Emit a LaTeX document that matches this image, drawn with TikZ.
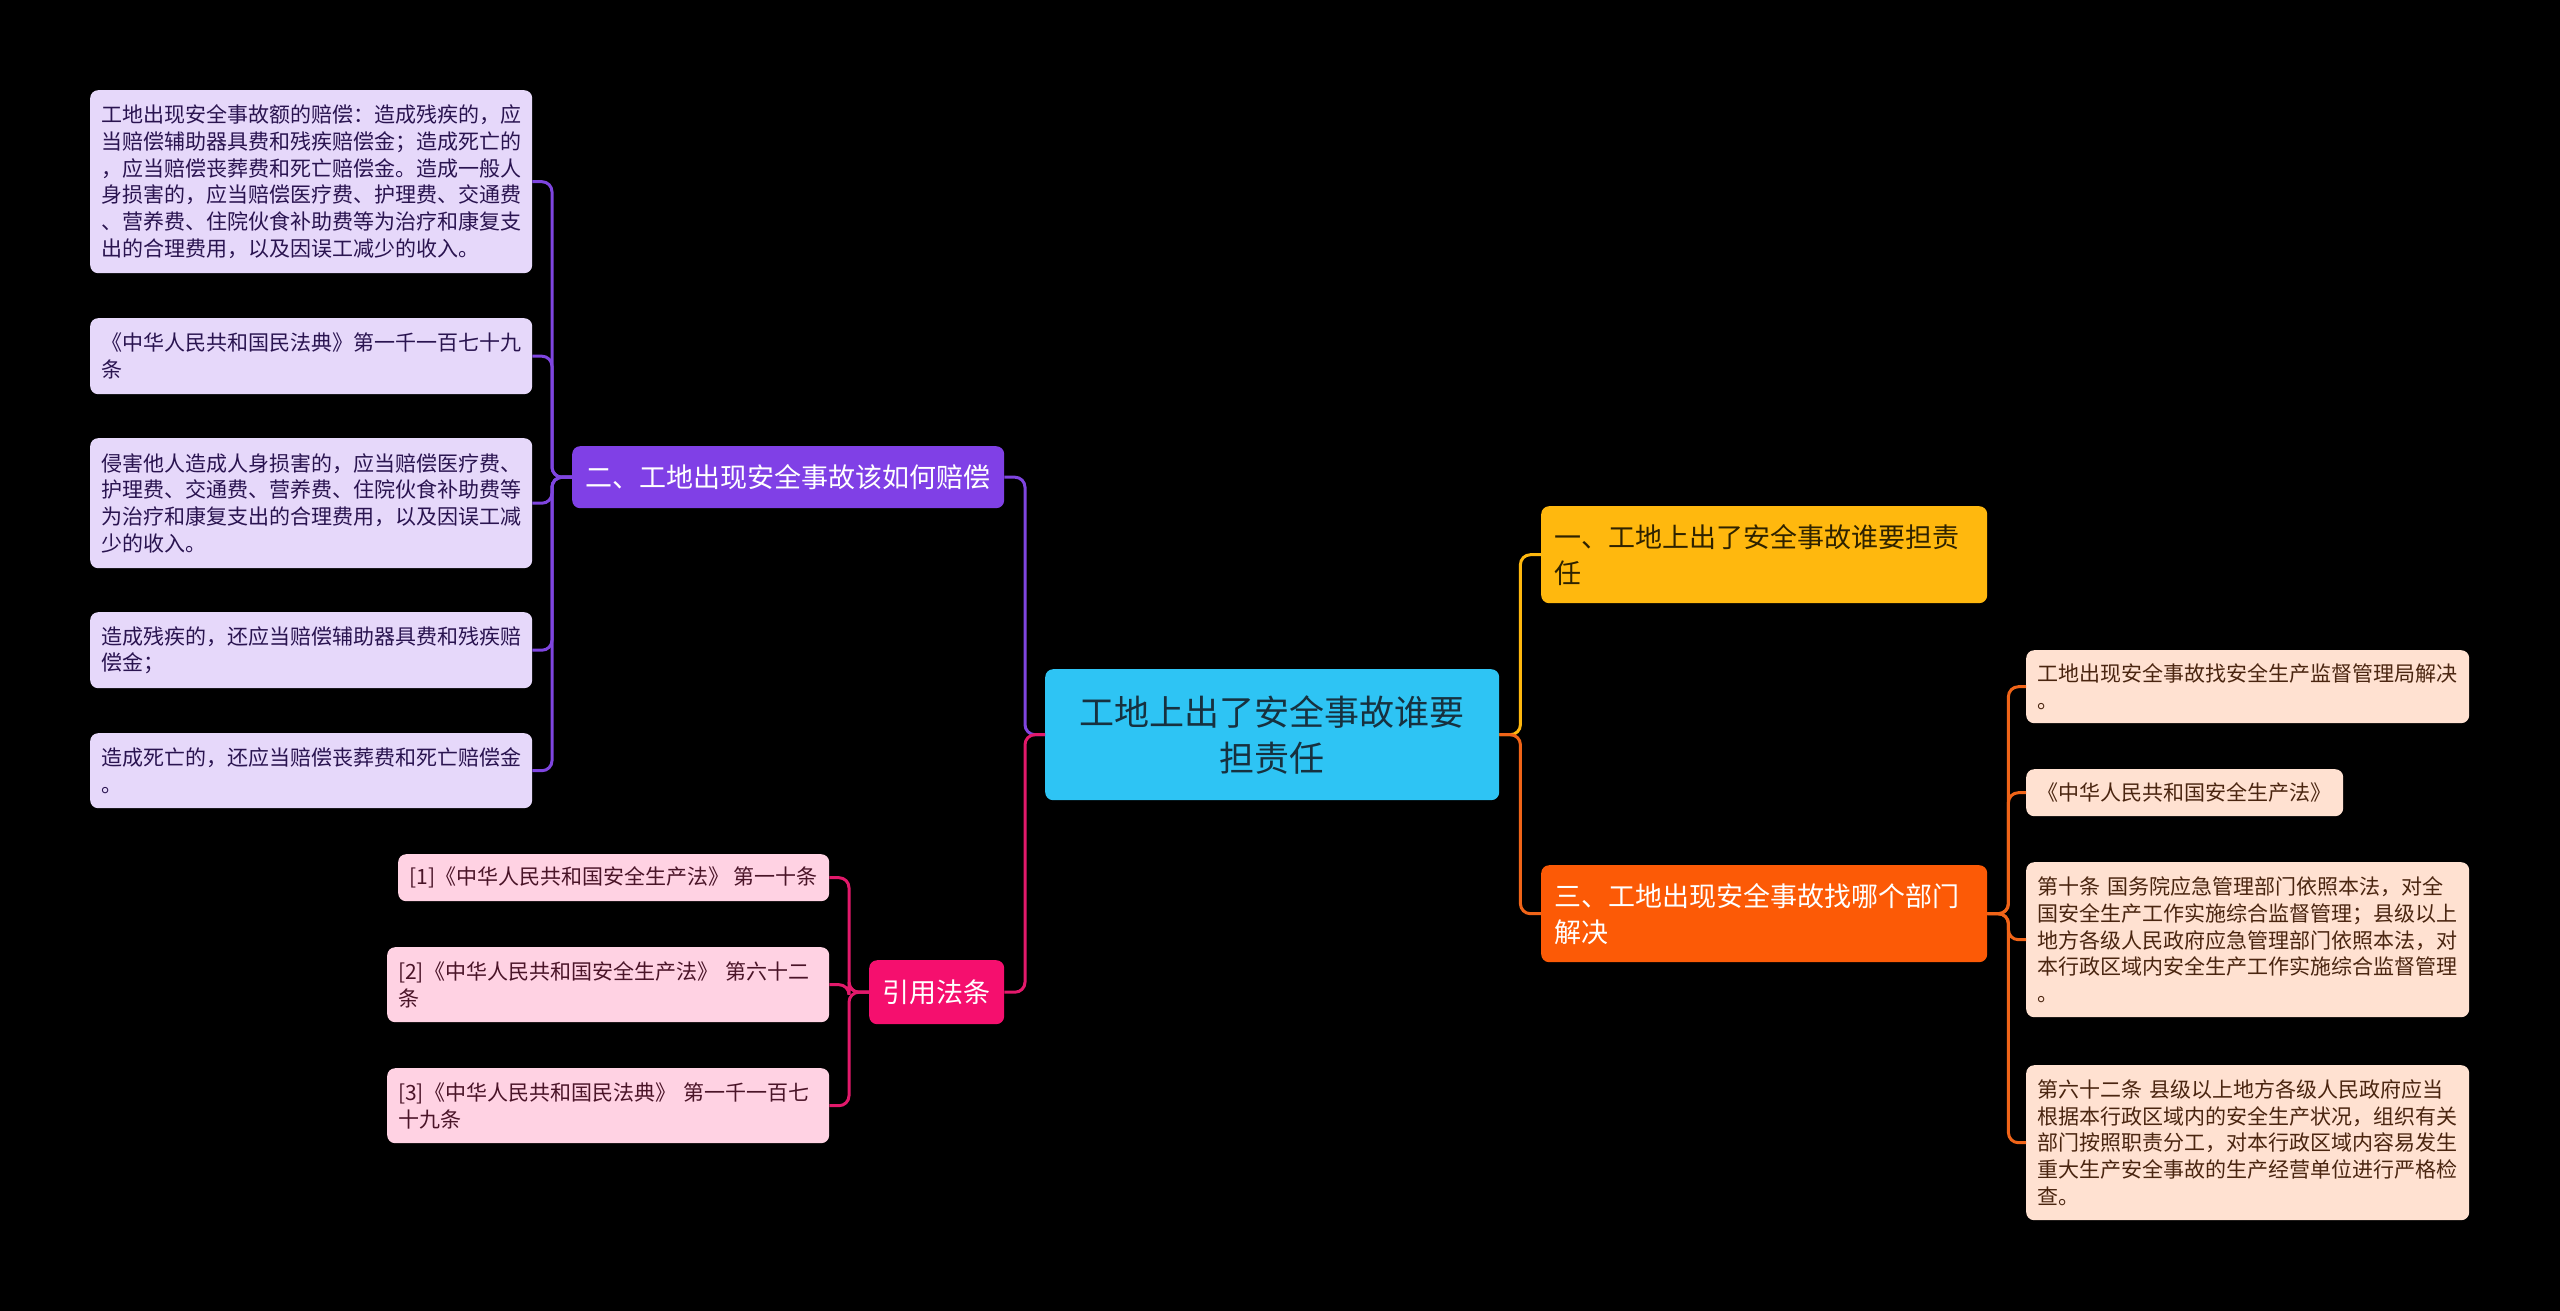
\documentclass[tikz,border=0pt]{standalone}
\usepackage{fontspec}
\newfontfamily\cjk{Noto Sans CJK SC}
\definecolor{bg}{HTML}{000000}
\definecolor{cfill}{HTML}{2EC4F4}
\definecolor{ctext}{HTML}{17313F}
\definecolor{yfill}{HTML}{FFB80E}
\definecolor{ytext}{HTML}{2E2200}
\definecolor{ofill}{HTML}{FC5A06}
\definecolor{oline}{HTML}{F06418}
\definecolor{pfill}{HTML}{8040E6}
\definecolor{pline}{HTML}{7F45E0}
\definecolor{mfill}{HTML}{F50F6E}
\definecolor{mline}{HTML}{E2196B}
\definecolor{lavfill}{HTML}{E6D8FA}
\definecolor{lavtext}{HTML}{2A1450}
\definecolor{pinkfill}{HTML}{FFD2E3}
\definecolor{pinktext}{HTML}{4A1428}
\definecolor{peachfill}{HTML}{FFE1D1}
\definecolor{peachtext}{HTML}{4A2510}
\tikzset{
  box/.style={rounded corners=8pt, inner ysep=0pt, anchor=north west, font=\cjk},
  leaf/.style={box, inner xsep=11pt, align=left, font=\cjk\fontsize{21}{26.7}\selectfont},
  leafV/.style={leaf, fill=lavfill, text=lavtext},
  leafP/.style={leaf, fill=pinkfill, text=pinktext},
  leafO/.style={leaf, fill=peachfill, text=peachtext},
  branch/.style={box, font=\cjk\fontsize{27}{36}\selectfont},
  conn/.style={line width=3pt, rounded corners=10pt}
}
\begin{document}
\begin{tikzpicture}[x=1pt,y=-1pt]
\useasboundingbox (0,0) rectangle (2560,1311);
\fill[bg] (0,0) rectangle (2560,1311);

% centre
\node[box, fill=cfill, text=ctext, minimum width=454pt, minimum height=131pt, inner xsep=0pt, align=center,
  font=\cjk\fontsize{35}{46}\selectfont] (c) at (1045,669) {工地上出了安全事故谁要\\担责任};

% branches
\node[branch, fill=yfill, text=ytext, minimum height=97pt, inner xsep=13pt, text width=420pt, align=left]
  (b1) at (1541,506) {一、工地上出了安全事故谁要担责\\任};
\node[branch, fill=ofill, text=white, minimum height=97pt, inner xsep=13pt, text width=420pt, align=left]
  (b3) at (1541,865) {三、工地出现安全事故找哪个部门\\解决};
\node[branch, fill=pfill, text=white, minimum height=62pt, minimum width=432pt, inner xsep=0pt]
  (b2) at (572,446) {二、工地出现安全事故该如何赔偿};
\node[branch, fill=mfill, text=white, minimum height=64pt, minimum width=135pt, inner xsep=0pt]
  (b4) at (869,960) {引用法条};

% purple leaves
\node[leafV, text width=420pt, minimum height=183pt] (l1) at (90,90)
  {工地出现安全事故额的赔偿：造成残疾的，应\\当赔偿辅助器具费和残疾赔偿金；造成死亡的\\，应当赔偿丧葬费和死亡赔偿金。造成一般人\\身损害的，应当赔偿医疗费、护理费、交通费\\、营养费、住院伙食补助费等为治疗和康复支\\出的合理费用，以及因误工减少的收入。};
\node[leafV, text width=420pt, minimum height=76pt] (l2) at (90,318)
  {《中华人民共和国民法典》第一千一百七十九\\条};
\node[leafV, text width=420pt, minimum height=130pt] (l3) at (90,438)
  {侵害他人造成人身损害的，应当赔偿医疗费、\\护理费、交通费、营养费、住院伙食补助费等\\为治疗和康复支出的合理费用，以及因误工减\\少的收入。};
\node[leafV, text width=420pt, minimum height=76pt] (l4) at (90,612)
  {造成残疾的，还应当赔偿辅助器具费和残疾赔\\偿金；};
\node[leafV, text width=420pt, minimum height=75pt] (l5) at (90,733)
  {造成死亡的，还应当赔偿丧葬费和死亡赔偿金\\。};

% pink leaves
\node[leafP, inner xsep=8pt, minimum width=431pt, minimum height=47pt] (p1) at (398,854)
  {[1]《中华人民共和国安全生产法》 第一十条};
\node[leafP, text width=420pt, minimum height=75pt] (p2) at (387,947)
  {[2]《中华人民共和国安全生产法》 第六十二\\条};
\node[leafP, text width=420pt, minimum height=75pt] (p3) at (387,1068)
  {[3]《中华人民共和国民法典》 第一千一百七\\十九条};

% peach leaves
\node[leafO, text width=421pt, minimum height=73pt] (o1) at (2026,650)
  {工地出现安全事故找安全生产监督管理局解决\\。};
\node[leafO, text width=295pt, minimum height=47pt] (o2) at (2026,769)
  {《中华人民共和国安全生产法》};
\node[leafO, text width=421pt, minimum height=155pt] (o3) at (2026,862)
  {第十条 国务院应急管理部门依照本法，对全\\国安全生产工作实施综合监督管理；县级以上\\地方各级人民政府应急管理部门依照本法，对\\本行政区域内安全生产工作实施综合监督管理\\。};
\node[leafO, text width=421pt, minimum height=155pt] (o4) at (2026,1065)
  {第六十二条 县级以上地方各级人民政府应当\\根据本行政区域内的安全生产状况，组织有关\\部门按照职责分工，对本行政区域内容易发生\\重大生产安全事故的生产经营单位进行严格检\\查。};

% connectors from centre
\draw[conn, yfill] (c.east) -- ++(21,0) |- (b1.west);
\draw[conn, oline] (c.east) -- ++(21,0) |- (b3.west);
\draw[conn, pline] (c.west) -- ++(-20,0) |- (b2.east);
\draw[conn, mline] (c.west) -- ++(-20,0) |- (b4.east);

% branch 2 leaves
\foreach \n in {l1,l2,l3,l4,l5}
  \draw[conn, pline] (b2.west) -- ++(-20,0) |- (\n.east);
% branch 4 leaves
\foreach \n in {p1,p2,p3}
  \draw[conn, mline] (b4.west) -- ++(-20,0) |- (\n.east);
% branch 3 leaves
\foreach \n in {o1,o2,o3,o4}
  \draw[conn, oline] (b3.east) -- ++(21,0) |- (\n.west);
\end{tikzpicture}
\end{document}
